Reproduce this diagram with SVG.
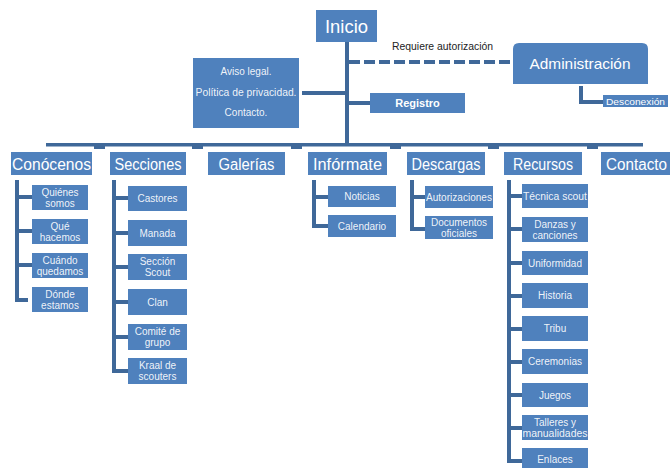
<svg xmlns="http://www.w3.org/2000/svg" width="670" height="468" viewBox="0 0 670 468">
  <style>
    .box { fill: #4F81BD; }
    .ln { fill: none; stroke: #3F6899; stroke-width: 4; }
    .bar { fill: #3F6899; }
    .t { font-family: "Liberation Sans", Arial, sans-serif; fill: #ffffff; text-anchor: middle; }
    .cat { font-size: 16px; }
    .sm { font-size: 10px; fill-opacity: 0.92; }
    .note { font-family: "Liberation Sans", Arial, sans-serif; font-size: 10px; fill: #222; }
  </style>

  <!-- connectors -->
  <g id="connectors">
    <!-- trunk from Inicio to the category bar -->
    <line class="ln" x1="347" y1="42" x2="347" y2="145"/>
    <rect class="bar" x="46" y="143" width="597" height="3.5"/>
    <!-- stubs under the category bar -->
    <rect class="bar" x="94" y="145" width="11" height="4"/>
    <rect class="bar" x="192" y="145" width="11" height="4"/>
    <rect class="bar" x="291" y="145" width="11" height="4"/>
    <rect class="bar" x="390" y="145" width="11" height="4"/>
    <rect class="bar" x="488" y="145" width="11" height="4"/>
    <rect class="bar" x="587" y="145" width="11" height="4"/>
    <!-- legal box and Registro -->
    <line class="ln" x1="302" y1="93" x2="347" y2="93"/>
    <line class="ln" x1="347" y1="103" x2="370" y2="103"/>
    <!-- restricted access to Administración -->
    <line class="ln" x1="349" y1="62" x2="513" y2="62" stroke-dasharray="11 4"/>
    <!-- Administración to Desconexión -->
    <path class="ln" d="M581,86 V102 H603"/>

    <!-- Conócenos children -->
    <path class="ln" d="M17,180 V300 H28"/>
    <path class="ln" d="M17,197 H32 M17,231 H32 M17,265 H32"/>
    <!-- Secciones children -->
    <path class="ln" d="M114,180 V371 H128"/>
    <path class="ln" d="M114,198 H128 M114,233 H128 M114,267 H128 M114,302 H128 M114,337 H128"/>
    <!-- Infórmate children -->
    <path class="ln" d="M314,180 V226 H328"/>
    <path class="ln" d="M314,197 H328"/>
    <!-- Descargas children -->
    <path class="ln" d="M412,180 V229 H425"/>
    <path class="ln" d="M412,197 H425"/>
    <!-- Recursos children -->
    <path class="ln" d="M509,180 V461 H522"/>
    <path class="ln" d="M509,196 H522 M509,229 H522 M509,263 H522 M509,296 H522 M509,329 H522 M509,362 H522 M509,395 H522 M509,428 H522"/>
  </g>

  <!-- top level -->
  <g id="inicio">
    <rect class="box" x="316" y="10" width="61" height="32"/>
    <text class="t" x="346.5" y="33" font-size="19" textLength="43" lengthAdjust="spacingAndGlyphs">Inicio</text>
  </g>
  <g id="legal">
    <rect class="box" x="193" y="58" width="106" height="70"/>
    <text class="t sm" x="246" y="75">Aviso legal.</text>
    <text class="t sm" x="246" y="96" textLength="101" lengthAdjust="spacingAndGlyphs">Política de privacidad.</text>
    <text class="t sm" x="246" y="116">Contacto.</text>
  </g>
  <g id="registro">
    <rect class="box" x="370" y="93" width="95" height="20"/>
    <text class="t" x="417.5" y="107" font-size="11" font-weight="bold">Registro</text>
  </g>
  <text class="note" x="392" y="50" textLength="101" lengthAdjust="spacingAndGlyphs">Requiere autorización</text>
  <g id="administracion">
    <path class="box" d="M513,84 V49 Q513,43 519,43 H642 Q648,43 648,49 V84 Z"/>
    <text class="t" x="580" y="69" font-size="15" textLength="101" lengthAdjust="spacingAndGlyphs">Administración</text>
  </g>
  <g id="desconexion">
    <rect class="box" x="603" y="95" width="65" height="12"/>
    <text class="t" x="635.5" y="104.5" font-size="9.5" textLength="59" lengthAdjust="spacingAndGlyphs">Desconexión</text>
  </g>

  <!-- categories -->
  <g id="conocenos">
    <rect class="box" x="11" y="152" width="81" height="23"/>
    <text class="t cat" x="51.5" y="169.5" textLength="79" lengthAdjust="spacingAndGlyphs">Conócenos</text>
  </g>
  <g id="secciones">
    <rect class="box" x="110" y="152" width="76" height="23"/>
    <text class="t cat" x="148" y="169.5" textLength="67" lengthAdjust="spacingAndGlyphs">Secciones</text>
  </g>
  <g id="galerias">
    <rect class="box" x="208" y="152" width="77" height="23"/>
    <text class="t cat" x="246.5" y="169.5" textLength="56" lengthAdjust="spacingAndGlyphs">Galerías</text>
  </g>
  <g id="informate">
    <rect class="box" x="308" y="152" width="79" height="23"/>
    <text class="t cat" x="347.5" y="169.5" textLength="69" lengthAdjust="spacingAndGlyphs">Infórmate</text>
  </g>
  <g id="descargas">
    <rect class="box" x="407" y="152" width="78" height="23"/>
    <text class="t cat" x="446" y="169.5" textLength="69" lengthAdjust="spacingAndGlyphs">Descargas</text>
  </g>
  <g id="recursos">
    <rect class="box" x="504" y="152" width="78" height="23"/>
    <text class="t cat" x="543" y="169.5" textLength="60" lengthAdjust="spacingAndGlyphs">Recursos</text>
  </g>
  <g id="contacto">
    <rect class="box" x="601" y="152" width="75" height="23"/>
    <text class="t cat" x="636.5" y="169.5" textLength="61" lengthAdjust="spacingAndGlyphs">Contacto</text>
  </g>

  <!-- Conócenos -->
  <g id="quienes-somos">
    <rect class="box" x="32" y="185" width="56" height="25"/>
    <text class="t sm" x="60" y="195.5">Quiénes</text>
    <text class="t sm" x="60" y="207">somos</text>
  </g>
  <g id="que-hacemos">
    <rect class="box" x="32" y="219" width="56" height="25"/>
    <text class="t sm" x="60" y="229.5">Qué</text>
    <text class="t sm" x="60" y="241">hacemos</text>
  </g>
  <g id="cuando-quedamos">
    <rect class="box" x="32" y="253" width="56" height="25"/>
    <text class="t sm" x="60" y="263.5">Cuándo</text>
    <text class="t sm" x="60" y="275">quedamos</text>
  </g>
  <g id="donde-estamos">
    <rect class="box" x="32" y="287" width="56" height="25"/>
    <text class="t sm" x="60" y="297.5">Dónde</text>
    <text class="t sm" x="60" y="309">estamos</text>
  </g>

  <!-- Secciones -->
  <g id="castores">
    <rect class="box" x="128" y="186" width="59" height="25"/>
    <text class="t sm" x="157.5" y="202">Castores</text>
  </g>
  <g id="manada">
    <rect class="box" x="128" y="220" width="59" height="26"/>
    <text class="t sm" x="157.5" y="236.5">Manada</text>
  </g>
  <g id="seccion-scout">
    <rect class="box" x="128" y="254" width="59" height="26"/>
    <text class="t sm" x="157.5" y="264.5">Sección</text>
    <text class="t sm" x="157.5" y="276">Scout</text>
  </g>
  <g id="clan">
    <rect class="box" x="128" y="289" width="59" height="26"/>
    <text class="t sm" x="157.5" y="305.5">Clan</text>
  </g>
  <g id="comite-de-grupo">
    <rect class="box" x="128" y="324" width="59" height="26"/>
    <text class="t sm" x="157.5" y="334.5">Comité de</text>
    <text class="t sm" x="157.5" y="346">grupo</text>
  </g>
  <g id="kraal-de-scouters">
    <rect class="box" x="128" y="358" width="59" height="26"/>
    <text class="t sm" x="157.5" y="368.5">Kraal de</text>
    <text class="t sm" x="157.5" y="380">scouters</text>
  </g>

  <!-- Infórmate -->
  <g id="noticias">
    <rect class="box" x="328" y="186" width="68" height="21"/>
    <text class="t sm" x="362" y="200">Noticias</text>
  </g>
  <g id="calendario">
    <rect class="box" x="328" y="215" width="68" height="22"/>
    <text class="t sm" x="362" y="229.5">Calendario</text>
  </g>

  <!-- Descargas -->
  <g id="autorizaciones">
    <rect class="box" x="425" y="186" width="68" height="22"/>
    <text class="t sm" x="459" y="200.5" textLength="66" lengthAdjust="spacingAndGlyphs">Autorizaciones</text>
  </g>
  <g id="documentos-oficiales">
    <rect class="box" x="425" y="216" width="68" height="23"/>
    <text class="t sm" x="459" y="225.5">Documentos</text>
    <text class="t sm" x="459" y="236.5">oficiales</text>
  </g>

  <!-- Recursos -->
  <g id="tecnica-scout">
    <rect class="box" x="522" y="184" width="66" height="24"/>
    <text class="t sm" x="555" y="199.5" textLength="64" lengthAdjust="spacingAndGlyphs">Técnica scout</text>
  </g>
  <g id="danzas-y-canciones">
    <rect class="box" x="522" y="217" width="66" height="25"/>
    <text class="t sm" x="555" y="227.5">Danzas y</text>
    <text class="t sm" x="555" y="239">canciones</text>
  </g>
  <g id="uniformidad">
    <rect class="box" x="522" y="251" width="66" height="24"/>
    <text class="t sm" x="555" y="266.5">Uniformidad</text>
  </g>
  <g id="historia">
    <rect class="box" x="522" y="283" width="66" height="25"/>
    <text class="t sm" x="555" y="299">Historia</text>
  </g>
  <g id="tribu">
    <rect class="box" x="522" y="316" width="66" height="25"/>
    <text class="t sm" x="555" y="332">Tribu</text>
  </g>
  <g id="ceremonias">
    <rect class="box" x="522" y="349" width="66" height="25"/>
    <text class="t sm" x="555" y="365">Ceremonias</text>
  </g>
  <g id="juegos">
    <rect class="box" x="522" y="383" width="66" height="24"/>
    <text class="t sm" x="555" y="398.5">Juegos</text>
  </g>
  <g id="talleres-y-manualidades">
    <rect class="box" x="522" y="415" width="66" height="25"/>
    <text class="t sm" x="555" y="425.5">Talleres y</text>
    <text class="t sm" x="555" y="437" textLength="65" lengthAdjust="spacingAndGlyphs">manualidades</text>
  </g>
  <g id="enlaces">
    <rect class="box" x="522" y="448" width="66" height="20"/>
    <text class="t sm" x="555" y="463">Enlaces</text>
  </g>
</svg>
